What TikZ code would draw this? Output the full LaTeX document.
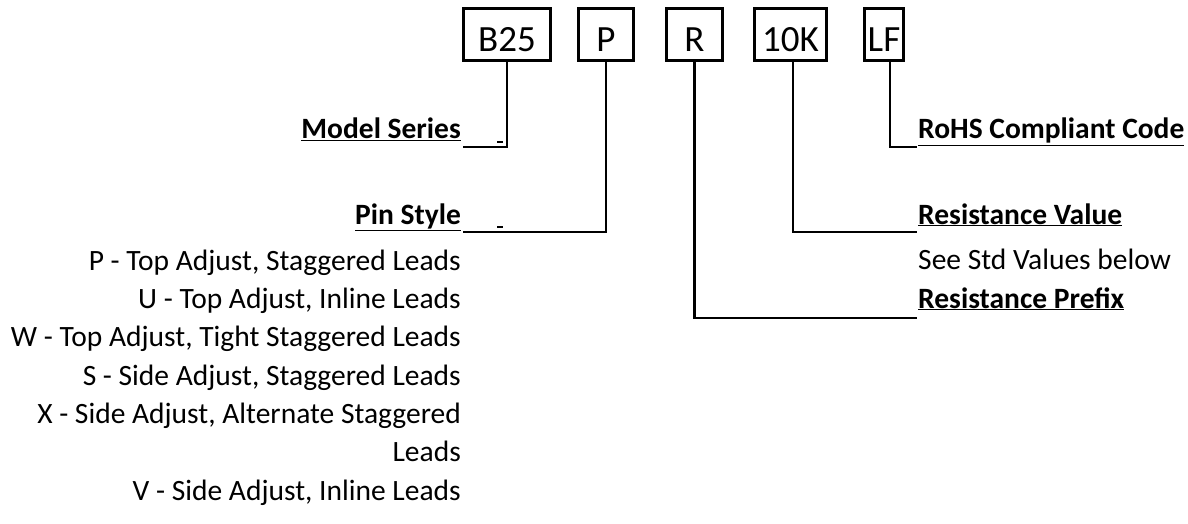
\documentclass[tikz,border=0pt]{standalone}
\usepackage{fontspec}
\setmainfont{Carlito}
\usetikzlibrary{calc}

\tikzset{
  part/.style={draw, line width=3.2pt, minimum height=52pt, inner sep=0pt,
               text height=35pt, text depth=0pt,
               font=\fontsize{37}{40}\selectfont},
  lead/.style={line width=2.8pt},
  head/.style={inner sep=0pt, font=\bfseries\fontsize{29.5}{35}\selectfont},
  item/.style={inner sep=0pt, anchor=base east, font=\fontsize{29.5}{35}\selectfont}
}

\begin{document}
\begin{tikzpicture}[x=1pt, y=-1pt]
  \useasboundingbox (0,0) rectangle (1188,524);

  % part number boxes
  \node[part, minimum width=87pt] (series) at (507,34.5) {B25};
  \node[part, minimum width=55pt] (pin)    at (606,34.5) {P};
  \node[part, minimum width=56pt] (prefix) at (694.5,34.5) {R};
  \node[part, minimum width=72pt] (value)  at (790.5,34.5) {10K};
  \node[part, minimum width=39pt] (rohs)   at (884,34.5) {LF};

  % headings
  \node[head, anchor=base east] (seriesl) at (461,139) {\underline{Model Series}};
  \node[head, anchor=base east] (pinl)    at (461,224) {\underline{Pin Style}};
  \node[head, anchor=base west] (rohsl)   at (918,139) {\underline{RoHS Compliant Code}};
  \node[head, anchor=base west] (valuel)  at (918,224) {\underline{Resistance Value}};
  \node[head, anchor=base west] (prefixl) at (918,308) {\underline{Resistance Prefix}};

  \draw[lead] (series.south) |- ([shift={(2,8)}]seriesl.base east);
  \draw[lead] (pin.south) |- ([shift={(2,8)}]pinl.base east);
  \draw[lead] ([xshift=6pt]rohs.south) |- ([shift={(-1,8)}]rohsl.base west);
  \draw[lead] ([xshift=2.5pt]value.south) |- ([shift={(-1,8)}]valuel.base west);
  \draw[lead] (prefix.south) |- ([shift={(-1,10)}]prefixl.base west);

  \draw[line width=1.5pt] (497,142) -- (503,142);
  \draw[line width=1.5pt] (497,227) -- (503,227);

  % pin styles
  \node[item] (p1) at (461,270)   {P - Top Adjust, Staggered Leads};
  \node[item] (p2) at (461,308.3) {U - Top Adjust, Inline Leads};
  \node[item] (p3) at (461,346.7) {W - Top Adjust, Tight Staggered Leads};
  \node[item] (p4) at (461,385)   {S - Side Adjust, Staggered Leads};
  \node[item] (p5) at (461,423.3) {X - Side Adjust, Alternate Staggered};
  \node[item] (p6) at (461,461.7) {Leads};
  \node[item] (p7) at (461,500)   {V - Side Adjust, Inline Leads};

  \node[item, anchor=base west] (v1) at (918,269) {See Std Values below};
\end{tikzpicture}
\end{document}
